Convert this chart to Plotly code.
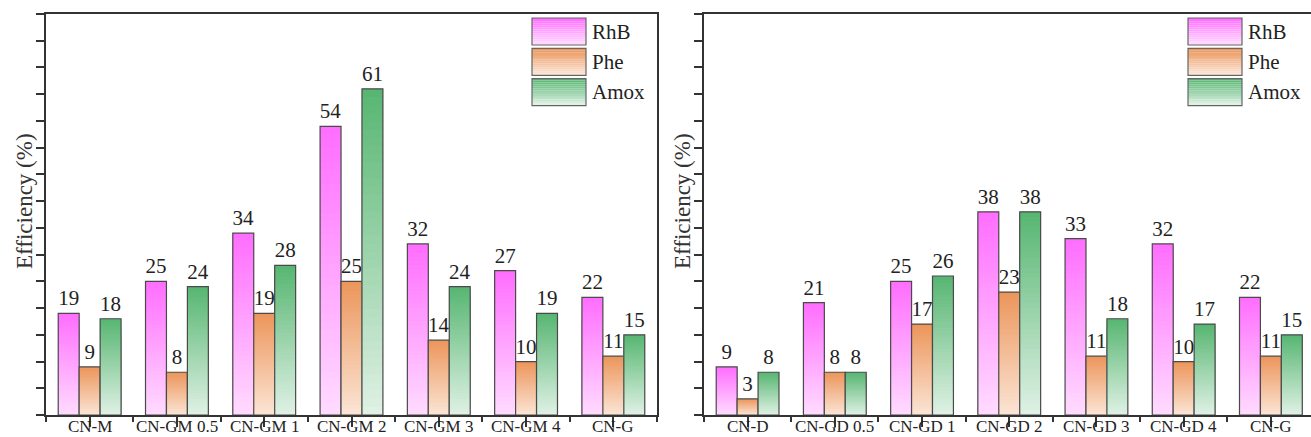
import plotly.graph_objects as go

# ---------------- data ----------------
series_names = ["RhB", "Phe", "Amox"]

left_categories = ["CN-M", "CN-GM 0.5", "CN-GM 1", "CN-GM 2", "CN-GM 3", "CN-GM 4", "CN-G"]
left_rhb = [19, 25, 34, 54, 32, 27, 22]
left_phe = [9, 8, 19, 25, 14, 10, 11]
left_amox = [18, 24, 28, 61, 24, 19, 15]

right_categories = ["CN-D", "CN-GD 0.5", "CN-GD 1", "CN-GD 2", "CN-GD 3", "CN-GD 4", "CN-G"]
right_rhb = [9, 21, 25, 38, 33, 32, 22]
right_phe = [3, 8, 17, 23, 11, 10, 11]
right_amox = [8, 8, 26, 38, 18, 17, 15]

# ---------------- style ----------------
W, H = 1311, 437
FONT = "Liberation Serif"
TOP_COLORS = [(255, 110, 255), (236, 150, 92), (88, 182, 114)]
BOT_COLORS = [(255, 218, 255), (251, 228, 212), (222, 241, 228)]
OUTLINE = "#4a4a4a"
STEPS = 40


def mix(c1, c2, t):
    return "rgb(%d,%d,%d)" % tuple(round(a + (b - a) * t) for a, b in zip(c1, c2))


fig = go.Figure()


def add_panel(xa, ya, cats, values_list, tag):
    xs = list(range(len(cats)))
    for si, (name, vals) in enumerate(zip(series_names, values_list)):
        og = f"{tag}_{name}"
        for k in range(STEPS):
            frac = (STEPS - k) / STEPS
            fig.add_trace(go.Bar(
                x=xs, y=[v * frac for v in vals], xaxis=xa, yaxis=ya,
                offsetgroup=og, marker=dict(color=mix(TOP_COLORS[si], BOT_COLORS[si], k / (STEPS - 1)),
                                            line=dict(width=0)),
                showlegend=False, hoverinfo="skip"))
        fig.add_trace(go.Bar(
            x=xs, y=vals, xaxis=xa, yaxis=ya, offsetgroup=og, name=name,
            marker=dict(color="rgba(0,0,0,0)", line=dict(color=OUTLINE, width=1.2)),
            text=[str(v) for v in vals], textposition="outside", constraintext="none",
            textfont=dict(family=FONT, size=21, color="#222"), cliponaxis=False,
            showlegend=False))


add_panel("x", "y", left_categories, [left_rhb, left_phe, left_amox], "L")
add_panel("x2", "y2", right_categories, [right_rhb, right_phe, right_amox], "R")


def px_x(p):
    return p / W


def px_y(p):
    return 1 - p / H


y_dom = [px_y(415), px_y(14)]

axis_common = dict(showline=True, mirror=True, linewidth=2, linecolor="#333",
                   showgrid=False, zeroline=False)


def xaxis_cfg(cats, rng, dom, anchor):
    # long ticks at category centres, short minor ticks on the boundaries
    return dict(axis_common, domain=dom, range=rng, anchor=anchor,
                tickmode="array", tickvals=list(range(len(cats))),
                ticks="outside", ticklen=10, tickwidth=1.5, tickcolor="#333",
                showticklabels=False,
                minor=dict(tickmode="linear", tick0=0.5, dtick=1, ticks="outside",
                           ticklen=5, tickwidth=1.5, tickcolor="#333"),
                automargin=False)


def yaxis_cfg(anchor):
    return dict(axis_common, domain=y_dom, range=[0, 75], anchor=anchor,
                tickmode="linear", tick0=0, dtick=5, ticks="outside", ticklen=8,
                tickwidth=1.5, tickcolor="#333", showticklabels=False, automargin=False)


left_dom = [px_x(46), px_x(657)]
right_dom = [px_x(704), 1.0]

fig.update_layout(
    width=W, height=H, margin=dict(l=0, r=0, t=0, b=0),
    paper_bgcolor="white", plot_bgcolor="white",
    barmode="group", bargap=0.28, bargroupgap=0,
    showlegend=False,
    xaxis=xaxis_cfg(left_categories, [-0.5, 6.5], left_dom, "y"),
    yaxis=yaxis_cfg("x"),
    xaxis2=xaxis_cfg(right_categories, [-0.5, 6.46], right_dom, "y2"),
    yaxis2=yaxis_cfg("x2"),
)

annotations = []
shapes = []

# category labels, placed on the x axes at each category position
for xref, cats in (("x", left_categories), ("x2", right_categories)):
    for i, c in enumerate(cats):
        annotations.append(dict(text=c, x=i, xref=xref, y=px_y(415), yref="paper",
                                xanchor="center", yanchor="top", showarrow=False,
                                font=dict(family=FONT, size=17, color="#222")))

for cx in (25, 683):
    annotations.append(dict(text="Efficiency (%)", textangle=-90, x=px_x(cx), y=px_y(201),
                            xref="paper", yref="paper", xanchor="center", yanchor="middle",
                            showarrow=False, font=dict(family=FONT, size=23, color="#333")))

# legend boxes (decorative, drawn in paper coordinates)
LSTEPS = 14
for bx in (532, 1188):
    for si, name in enumerate(series_names):
        top = 18 + si * 30.3
        bot = top + 27
        for k in range(LSTEPS):
            y0 = top + (bot - top) * k / LSTEPS
            y1 = top + (bot - top) * (k + 1) / LSTEPS
            shapes.append(dict(type="rect", xref="paper", yref="paper",
                               x0=px_x(bx), x1=px_x(bx + 54), y0=px_y(y1), y1=px_y(y0),
                               fillcolor=mix(TOP_COLORS[si], BOT_COLORS[si], k / (LSTEPS - 1)),
                               line=dict(width=0)))
        shapes.append(dict(type="rect", xref="paper", yref="paper",
                           x0=px_x(bx), x1=px_x(bx + 54), y0=px_y(bot), y1=px_y(top),
                           fillcolor="rgba(0,0,0,0)", line=dict(color="#666", width=1.2)))
        annotations.append(dict(text=name, x=px_x(bx + 58), y=px_y((top + bot) / 2),
                                xref="paper", yref="paper", xanchor="left", yanchor="middle",
                                showarrow=False, font=dict(family=FONT, size=21, color="#222")))

fig.update_layout(annotations=annotations, shapes=shapes)
fig.write_html("out.html")
